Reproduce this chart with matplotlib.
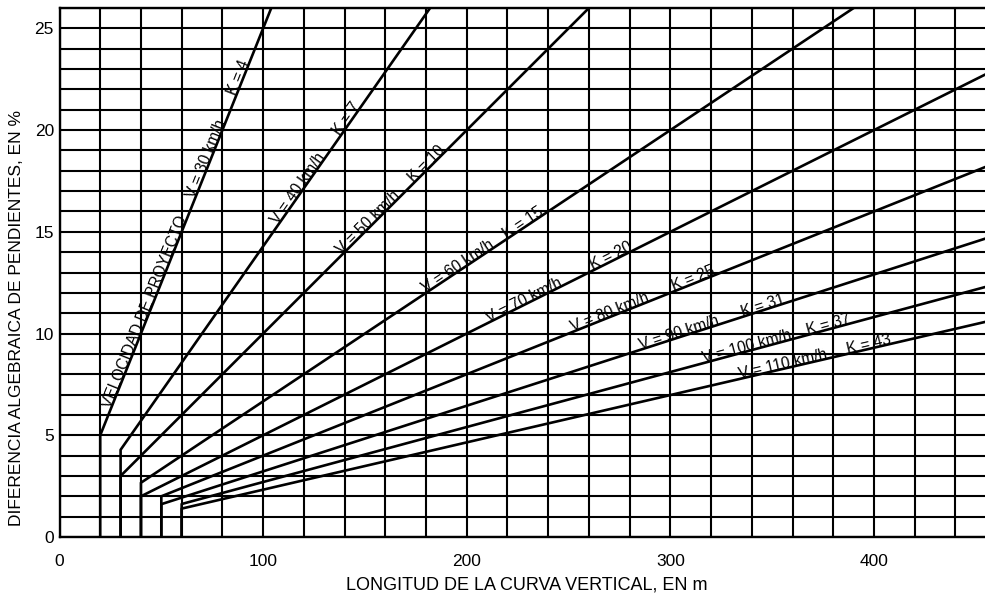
import numpy as np
import matplotlib.pyplot as plt

plt.rcParams['font.family'] = ['Liberation Sans', 'DejaVu Sans']

# velocidad de proyecto, K y longitud minima de cada curva
velocidades = [30, 40, 50, 60, 70, 80, 90, 100, 110]
k_valores = [4, 7, 10, 15, 20, 25, 31, 37, 43]
long_min = [20, 30, 30, 40, 40, 50, 50, 60, 60]

# donde van las etiquetas (longitud en m sobre cada recta)
pos_vel = [74, 119, 153, 197, 229, 271, 305, 338, 356]
pos_k = [90, 143, 182, 229, 272, 312, 346, 378, 398]

x_max = 454.5
y_max = 26

fig = plt.figure(figsize=(9.85, 5.98), dpi=100)
ax = fig.add_axes([59.5 / 985, 61 / 598, 1 - 59.5 / 985, 529 / 598])
ax.set_xlim(0, x_max)
ax.set_ylim(0, y_max)

# cuadricula
ax.set_xticks([0, 100, 200, 300, 400])
ax.set_xticks(np.arange(0, x_max, 20), minor=True)
ax.set_yticks([0, 5, 10, 15, 20, 25])
ax.set_yticks(np.arange(0, y_max + 1, 1), minor=True)
ax.grid(which='both', color='black', linewidth=1.5, zorder=1)
ax.set_axisbelow(True)
ax.tick_params(which='both', length=0)
ax.tick_params(axis='x', pad=12, labelsize=12.5)
ax.tick_params(axis='y', pad=4, labelsize=12.5)
for s in ['left', 'bottom', 'top']:
    ax.spines[s].set_linewidth(1.7)
ax.spines['right'].set_visible(False)

for v, k, lm, pv, pk in zip(velocidades, k_valores, long_min, pos_vel, pos_k):
    l_fin = k * y_max
    xs = [lm, lm, l_fin]
    ys = [0, lm / k, l_fin / k]
    ax.plot(xs, ys, color='black', linewidth=1.9, zorder=3)

    ang = np.degrees(np.arctan2(1 / k, 1))
    ax.text(pv, pv / k, f"V = {v} km/h", rotation=ang, rotation_mode='anchor',
            transform_rotates_text=True, ha='center', va='baseline',
            fontsize=11.2, zorder=4)
    ax.text(pk, pk / k, f"K = {k}", rotation=ang, rotation_mode='anchor',
            transform_rotates_text=True, ha='center', va='baseline',
            fontsize=11.2, zorder=4)
    if k == 4:
        ax.text(44, 44 / k, "VELOCIDAD DE PROYECTO", rotation=ang,
                rotation_mode='anchor', transform_rotates_text=True,
                ha='center', va='baseline', fontsize=11.2, zorder=4)

fig.text(527 / 985, 1 - 585 / 598, "LONGITUD DE LA CURVA VERTICAL, EN m",
         ha='center', va='center', fontsize=13)
fig.text(17 / 985, 1 - 318 / 598, "DIFERENCIA ALGEBRAICA DE PENDIENTES, EN %",
         ha='center', va='center', rotation=90, fontsize=12.5)

fig.savefig('out.png', dpi=100)
